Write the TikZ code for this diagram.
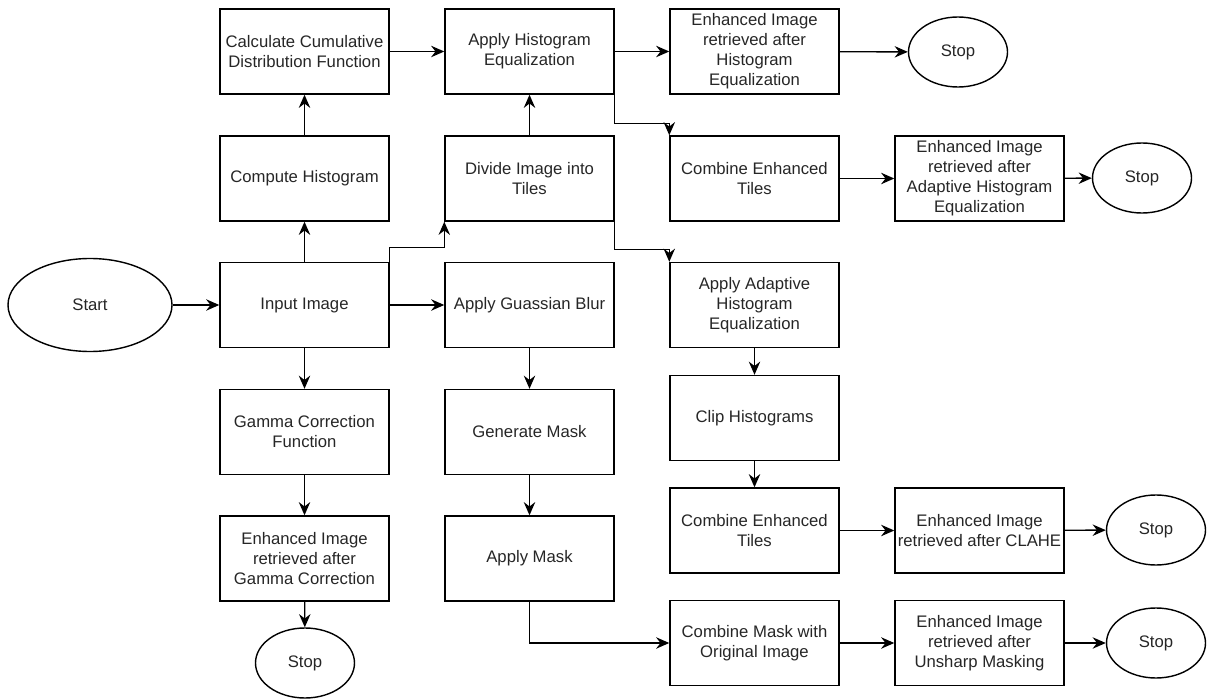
\documentclass[tikz,border=0pt]{standalone}
\usepackage{fontspec}
\setmainfont{Liberation Sans}
\usetikzlibrary{shapes.geometric,arrows.meta}
\def\colsep{4.5}
\tikzstyle{arrow} = [line width=0.8pt,-{Stealth[length=7.5pt,width=6.5pt,inset=2.5pt]}]

\begin{document}
\begin{tikzpicture}[font=\fontsize{9.5}{11.4}\selectfont]
    \tikzstyle{process}=[rectangle,draw=black,line width=0.8pt,minimum width=3.38cm,minimum height=1.7cm,align=center,inner sep=1pt,text=black!85]
    \tikzstyle{terminal}=[ellipse,draw=black,line width=0.8pt,minimum width=1.98cm,minimum height=1.4cm,inner sep=0pt,text=black!85]

    \useasboundingbox (0,0) rectangle (24.24,13.96);

    % Draw the start node and the first column
    \node[terminal,minimum width=3.28cm,minimum height=1.86cm] (Start) at (1.8,7.86) {Start};
    \node[process] (Cdf) at (6.09,12.93) {Calculate Cumulative\\Distribution Function};
    \node[process] (Hist) at (6.09,10.39) {Compute Histogram};
    \node[process] (In) at (6.09,7.86) {Input Image};
    \node[process] (Gam) at (6.09,5.32) {Gamma Correction\\Function};
    \node[process] (GamOut) at (6.09,2.79) {Enhanced Image\\retrieved after\\Gamma Correction};
    \node[terminal] (S-1) at (6.1,0.7) {Stop};

    % Draw the second column
    \node[process] (HE) at (6.09+\colsep,12.93) {Apply Histogram\\Equalization};
    \node[process] (Div) at (6.09+\colsep,10.39) {Divide Image into\\Tiles};
    \node[process] (Blur) at (6.09+\colsep,7.86) {Apply Guassian Blur};
    \node[process] (Gen) at (6.09+\colsep,5.32) {Generate Mask};
    \node[process] (Mask) at (6.09+\colsep,2.79) {Apply Mask};

    % Draw the third column
    \node[process] (HEOut) at (6.09+2*\colsep,12.93) {Enhanced Image\\retrieved after\\Histogram\\Equalization};
    \node[process] (CT-1) at (6.09+2*\colsep,10.39) {Combine Enhanced\\Tiles};
    \node[process] (AHE) at (6.09+2*\colsep,7.86) {Apply Adaptive\\Histogram\\Equalization};
    \node[process] (Clip) at (6.09+2*\colsep,5.60) {Clip Histograms};
    \node[process] (CT-2) at (6.09+2*\colsep,3.35) {Combine Enhanced\\Tiles};
    \node[process] (Comb) at (6.09+2*\colsep,1.10) {Combine Mask with\\Original Image};

    % Draw the fourth column
    \node[process] (AHEOut) at (6.09+3*\colsep,10.39) {Enhanced Image\\retrieved after\\Adaptive Histogram\\Equalization};
    \node[process] (ClaheOut) at (6.09+3*\colsep,3.35) {Enhanced Image\\retrieved after CLAHE};
    \node[process] (UsmOut) at (6.09+3*\colsep,1.10) {Enhanced Image\\retrieved after\\Unsharp Masking};

    % Draw the stop nodes
    \node[terminal] (S-2) at (19.16,12.92) {Stop};
    \node[terminal] (S-3) at (22.84,10.40) {Stop};
    \node[terminal] (S-4) at (23.12,3.36) {Stop};
    \node[terminal] (S-5) at (23.12,1.10) {Stop};

    % Connect the straight steps
    \foreach \src / \dst in {Start/In, In/Hist, Hist/Cdf, Cdf/HE, HE/HEOut, HEOut/S-2,
                             Div/HE, CT-1/AHEOut, AHEOut/S-3,
                             In/Blur, Blur/Gen, Gen/Mask,
                             In/Gam, Gam/GamOut, GamOut/S-1,
                             AHE/Clip, Clip/CT-2, CT-2/ClaheOut, ClaheOut/S-4,
                             Comb/UsmOut, UsmOut/S-5}
        \draw[arrow] (\src) -- (\dst);

    % Connect the bent steps
    \draw[arrow] (In.north east) -- ++(0,0.28) -| (Div.south west);
    \draw[arrow] (HE.south east) -- ++(0,-0.58) -| (CT-1.north west);
    \draw[arrow] (Div.south east) -- ++(0,-0.56) -| (AHE.north west);
    \draw[arrow] (Mask.south) |- (Comb.west);
\end{tikzpicture}
\end{document}
